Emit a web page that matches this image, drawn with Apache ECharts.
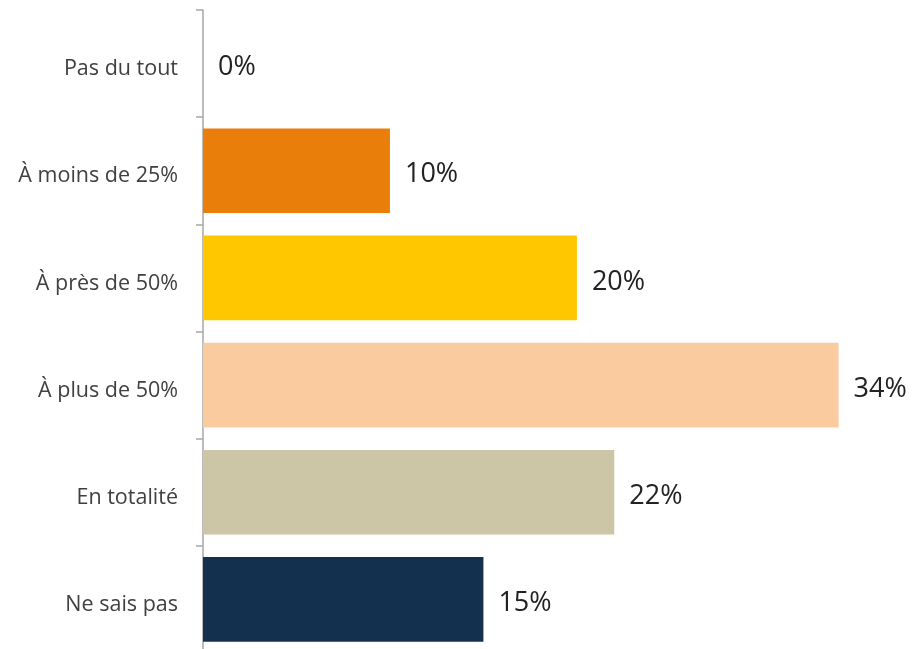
<!DOCTYPE html>
<html>
<head>
<meta charset="utf-8">
<script src="https://cdn.jsdelivr.net/npm/echarts@6/dist/echarts.min.js"></script>
<style>
  html, body { margin: 0; padding: 0; background: #fff; }
  #chart { width: 913px; height: 649px; }
</style>
</head>
<body>
<div id="chart"></div>
<script>
// categories top to bottom
const categories = ['Pas du tout', 'À moins de 25%', 'À près de 50%', 'À plus de 50%', 'En totalité', 'Ne sais pas']
const values = [0, 10, 20, 34, 22, 15]
const colors = ['#E97E0A', '#E97E0A', '#FFC700', '#FBCBA0', '#CDC6A6', '#14304F']

const chart = echarts.init(document.getElementById('chart'))

chart.setOption({
  animation: false,
  grid: {
    left: 203,
    top: 10,
    height: 643,
    right: 37,
    outerBoundsMode: 'none'
  },
  xAxis: {
    type: 'value',
    min: 0,
    max: 36,
    show: false
  },
  yAxis: {
    type: 'category',
    inverse: true,
    data: categories,
    axisLine: { show: true, lineStyle: { color: '#A6A6A6', width: 1.5 } },
    axisTick: { show: true, length: 7, lineStyle: { color: '#A6A6A6', width: 1.5 } },
    axisLabel: {
      margin: 25,
      formatter: '{a|{value}}',
      rich: {
        a: {
          padding: [11, 0, 0, 0],
          fontFamily: 'Open Sans',
          fontSize: 21.5,
          color: '#404040'
        }
      }
    }
  },
  series: [{
    type: 'bar',
    barCategoryGap: '21%',
    data: values.map((v, i) => ({ value: v, itemStyle: { color: colors[i] } })),
    label: {
      show: true,
      position: 'right',
      distance: 15,
      offset: [0, 4],
      formatter: '{c}%',
      fontFamily: 'Open Sans',
      fontSize: 27,
      color: '#222'
    }
  }]
})
</script>
</body>
</html>
